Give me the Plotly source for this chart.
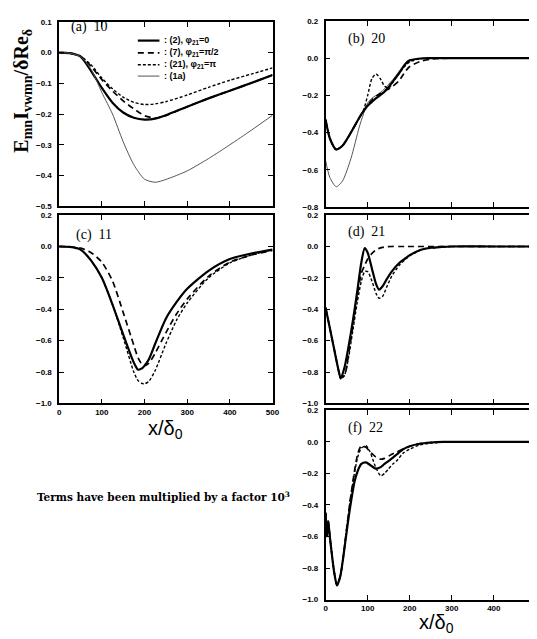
import plotly.graph_objects as go

# ---------------- data ----------------
# panel (a) 10
xa = [0, 25, 50, 75, 100, 125, 150, 175, 200, 225, 250, 300, 350, 400, 450, 500]
a_2 = [0, -0.002, -0.013, -0.06, -0.115, -0.163, -0.195, -0.212, -0.218, -0.215, -0.204, -0.176, -0.149, -0.124, -0.099, -0.073]
a_7 = [0, -0.002, -0.012, -0.045, -0.088, -0.125, -0.157, -0.183, -0.205, -0.213, -0.205, -0.176, -0.149, -0.124, -0.099, -0.073]
a_21 = [0, -0.002, -0.012, -0.04, -0.083, -0.118, -0.145, -0.162, -0.169, -0.167, -0.16, -0.138, -0.113, -0.09, -0.07, -0.05]
a_1a = [0, -0.002, -0.013, -0.055, -0.13, -0.2, -0.29, -0.365, -0.412, -0.422, -0.413, -0.385, -0.345, -0.3, -0.253, -0.204]

# panel (b) 20
xb = [0, 10, 25, 40, 60, 80, 90, 100, 110, 120, 130, 140, 150, 160, 175, 190, 200, 225, 250, 300, 400, 500]
b_2 = [-0.33, -0.43, -0.49, -0.47, -0.40, -0.32, -0.285, -0.255, -0.235, -0.215, -0.198, -0.18, -0.155, -0.125, -0.08, -0.03, -0.012, -0.002, 0, 0, 0, 0]
b_7 = [-0.33, -0.43, -0.49, -0.47, -0.40, -0.32, -0.285, -0.25, -0.225, -0.205, -0.19, -0.175, -0.165, -0.15, -0.12, -0.07, -0.045, -0.018, -0.005, 0, 0, 0]
b_21 = [-0.33, -0.43, -0.49, -0.47, -0.40, -0.32, -0.28, -0.2, -0.11, -0.085, -0.11, -0.15, -0.16, -0.13, -0.08, -0.04, -0.02, -0.003, 0, 0, 0, 0]
b_1a = [-0.55, -0.64, -0.69, -0.66, -0.54, -0.37, -0.3, -0.24, -0.215, -0.2, -0.185, -0.165, -0.14, -0.115, -0.07, -0.03, -0.015, -0.003, 0, 0, 0, 0]

# panel (c) 11
xc = [0, 25, 50, 75, 100, 125, 150, 175, 185, 195, 200, 210, 225, 250, 275, 300, 350, 400, 450, 500]
c_2 = [0, -0.003, -0.02, -0.09, -0.2, -0.37, -0.56, -0.74, -0.785, -0.775, -0.76, -0.72, -0.62, -0.46, -0.355, -0.27, -0.155, -0.08, -0.045, -0.02]
c_7 = [0, -0.002, -0.01, -0.04, -0.1, -0.22, -0.42, -0.63, -0.71, -0.755, -0.76, -0.745, -0.68, -0.55, -0.43, -0.335, -0.19, -0.1, -0.055, -0.025]
c_21 = [0, -0.003, -0.02, -0.09, -0.2, -0.37, -0.58, -0.8, -0.855, -0.873, -0.875, -0.86, -0.79, -0.62, -0.47, -0.36, -0.2, -0.105, -0.055, -0.022]

# panel (d) 21
xd = [0, 10, 20, 30, 36, 45, 55, 65, 75, 85, 93, 100, 110, 120, 127, 135, 145, 157, 175, 190, 200, 225, 250, 275, 300, 400, 500]
d_2 = [-0.39, -0.52, -0.65, -0.78, -0.84, -0.77, -0.63, -0.47, -0.29, -0.1, -0.01, -0.04, -0.14, -0.24, -0.275, -0.255, -0.21, -0.16, -0.105, -0.075, -0.055, -0.022, -0.008, -0.003, 0, 0, 0]
d_7 = [-0.39, -0.52, -0.65, -0.78, -0.835, -0.82, -0.68, -0.5, -0.32, -0.17, -0.12, -0.08, -0.045, -0.02, -0.012, -0.006, -0.002, 0, 0, 0, 0, 0, 0, 0, 0, 0, 0]
d_21 = [-0.39, -0.52, -0.65, -0.78, -0.845, -0.82, -0.7, -0.53, -0.36, -0.22, -0.16, -0.16, -0.22, -0.3, -0.33, -0.32, -0.26, -0.19, -0.12, -0.08, -0.06, -0.025, -0.01, -0.004, 0, 0, 0]

# panel (f) 22
xf = [0, 3, 6, 10, 20, 27, 35, 42, 50, 58, 69, 77, 85, 96, 105, 119, 131, 140, 150, 160, 169, 185, 200, 223, 250, 280, 300, 400, 500]
f_2 = [-0.45, -0.6, -0.5, -0.6, -0.82, -0.91, -0.85, -0.73, -0.57, -0.42, -0.25, -0.18, -0.14, -0.13, -0.145, -0.17, -0.16, -0.14, -0.12, -0.1, -0.08, -0.046, -0.028, -0.012, -0.004, 0, 0, 0, 0]
f_7 = [-0.45, -0.6, -0.5, -0.6, -0.82, -0.91, -0.85, -0.73, -0.55, -0.38, -0.18, -0.07, -0.025, -0.035, -0.06, -0.095, -0.11, -0.105, -0.09, -0.075, -0.065, -0.045, -0.028, -0.012, -0.004, 0, 0, 0, 0]
f_21 = [-0.45, -0.6, -0.5, -0.6, -0.82, -0.91, -0.85, -0.73, -0.55, -0.38, -0.19, -0.09, -0.04, -0.025, -0.06, -0.16, -0.215, -0.2, -0.17, -0.14, -0.12, -0.07, -0.046, -0.02, -0.008, -0.002, 0, 0, 0]

legend_labels = [": (2), φ<sub>21</sub>=0", ": (7), φ<sub>21</sub>=π/2", ": (21), φ<sub>21</sub>=π", ": (1a)"]
panel_labels = ["(a)\u00a0\u00a010", "(b)\u00a0\u00a020", "(c)\u00a0\u00a011", "(d)\u00a0\u00a021", "(f)\u00a0\u00a022"]
x_ticks = [0, 100, 200, 300, 400, 500]

# ---------------- styling ----------------
W, H = 537, 639
STY = {
    "2": dict(color="black", width=2.2, dash="solid"),
    "7": dict(color="black", width=1.7, dash="6px,4px"),
    "21": dict(color="black", width=1.4, dash="3px,2px"),
    "1a": dict(color="#555555", width=1.0, dash="solid"),
}

def px_dom_x(a, b):
    return [a / W, min(b / W, 1.0)]

def px_dom_y(top, bot):
    return [1 - bot / H, 1 - top / H]

panels = [
    ("", (50, 267), (10, 197), (-0.5, 0.1), 0.1, (0, 500), False),
    ("2", (321, 537), (9, 198), (-0.8, 0.2), 0.2, (0, 505), False),
    ("3", (50, 267), (206, 397), (-1.0, 0.2), 0.2, (0, 500), True),
    ("4", (321, 537), (206, 397), (-1.0, 0.2), 0.2, (0, 505), False),
    ("5", (321, 537), (404, 596), (-1.0, 0.2), 0.2, (0, 505), True),
]

tickfont = dict(family="Liberation Sans", size=8, color="black", weight="bold")

fig = go.Figure()

series = [
    (xa, [("2", a_2), ("7", a_7), ("21", a_21), ("1a", a_1a)]),
    (xb, [("1a", b_1a), ("7", b_7), ("21", b_21), ("2", b_2)]),
    (xc, [("7", c_7), ("21", c_21), ("2", c_2)]),
    (xd, [("7", d_7), ("21", d_21), ("2", d_2)]),
    (xf, [("7", f_7), ("21", f_21), ("2", f_2)]),
]

layout = dict(
    width=W, height=H,
    margin=dict(l=0, r=0, t=0, b=0),
    paper_bgcolor="white", plot_bgcolor="white",
    showlegend=False,
)

for (sid, xd_px, yd_px, yr, ydt, xr, showx), (xs, lines) in zip(panels, series):
    for key, ys in lines:
        st = STY[key]
        fig.add_trace(go.Scatter(
            x=xs, y=ys, mode="lines",
            line=dict(color=st["color"], width=st["width"], dash=st["dash"], shape="spline", smoothing=0.7),
            xaxis="x" + sid, yaxis="y" + sid, hoverinfo="skip",
        ))
    ax_common = dict(showline=True, linecolor="black", linewidth=1.5, mirror="ticks",
                     ticks="inside", ticklen=5, tickwidth=1.2, tickcolor="black",
                     showgrid=False, zeroline=False, tickfont=tickfont)
    layout["xaxis" + sid] = dict(ax_common, domain=px_dom_x(*xd_px), range=list(xr),
                                 tickvals=x_ticks, showticklabels=showx,
                                 anchor="y" + sid, ticklabelstandoff=0)
    layout["yaxis" + sid] = dict(ax_common, domain=px_dom_y(*yd_px), range=list(yr),
                                 dtick=ydt, tick0=0, tickformat=".1f",
                                 anchor="x" + sid, ticklabelstandoff=4)

fig.update_layout(**layout)

ann = []
lab_pos = [(60, 15), (342, 27), (65, 226), (342, 223), (342, 422)]
for txt, (lx, ly) in zip(panel_labels, lab_pos):
    ann.append(dict(x=lx / W, y=1 - ly / H, xref="paper", yref="paper", text=txt,
                    showarrow=False, xanchor="left", yanchor="middle",
                    font=dict(family="Liberation Serif", size=14, color="black")))

leg_rows = [29, 41.5, 53.5, 65]
shapes = []
for key, lab, ry in zip(["2", "7", "21", "1a"], legend_labels, leg_rows):
    st = STY[key]
    shapes.append(dict(type="line", xref="paper", yref="paper",
                       x0=130 / W, x1=152 / W, y0=1 - ry / H, y1=1 - ry / H,
                       line=dict(color=st["color"], width=st["width"], dash=st["dash"])))
    ann.append(dict(x=155 / W, y=1 - ry / H, xref="paper", yref="paper", text=lab,
                    showarrow=False, xanchor="left", yanchor="middle",
                    font=dict(family="Liberation Sans", size=9, color="black", weight="bold")))

ann.append(dict(x=13 / W, y=1 - 80 / H, xref="paper", yref="paper",
                text="E<sub>mn</sub>I<sub>vw</sub><sub>mn</sub>/δRe<sub>δ</sub>",
                textangle=-90, showarrow=False, xanchor="center", yanchor="middle",
                font=dict(family="Liberation Serif", size=20, color="black", weight="bold")))

for (cx, cy) in [(158, 423), (434, 620)]:
    ann.append(dict(x=cx / W, y=1 - cy / H, xref="paper", yref="paper",
                    text="x/δ<sub>0</sub>", showarrow=False, xanchor="center", yanchor="middle",
                    font=dict(family="Liberation Sans", size=20, color="black")))

ann.append(dict(x=156 / W, y=1 - 491 / H, xref="paper", yref="paper",
                text="Terms have been multiplied by a factor 10<sup>3</sup>",
                showarrow=False, xanchor="center", yanchor="middle",
                font=dict(family="DejaVu Serif", size=10.5, color="black", weight="bold")))

fig.update_layout(annotations=ann, shapes=shapes)

fig.write_html("out.html")
